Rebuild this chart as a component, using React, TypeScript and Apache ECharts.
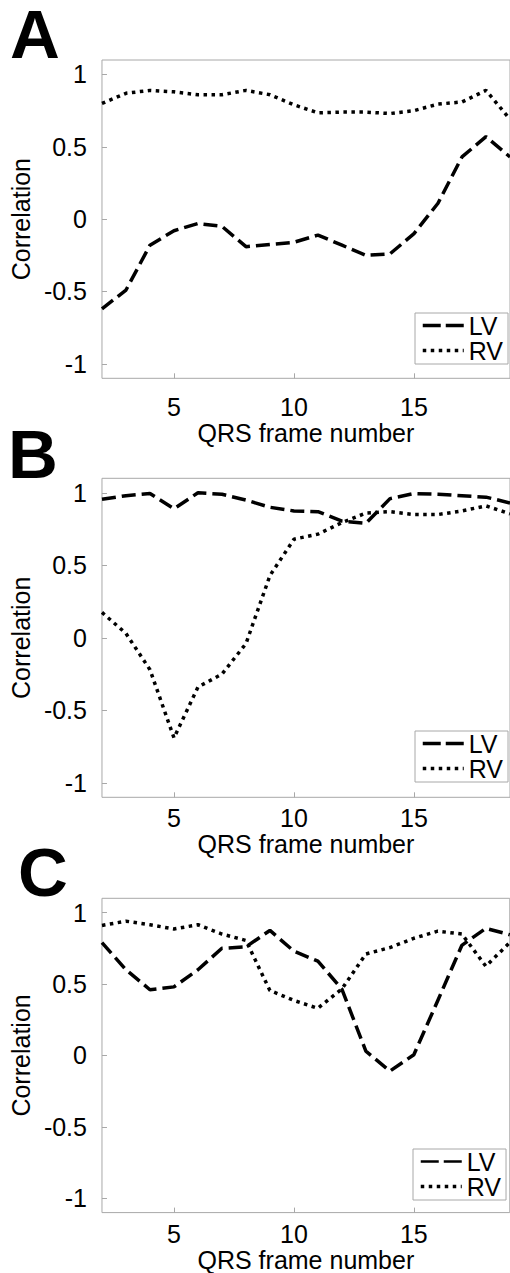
import React, { useEffect, useRef } from "react";
import * as echarts from "echarts";

const frames = [2, 3, 4, 5, 6, 7, 8, 9, 10, 11, 12, 13, 14, 15, 16, 17, 18, 19];

const lvA = [-0.62, -0.49, -0.18, -0.08, -0.03, -0.05, -0.19, -0.175, -0.16, -0.11, -0.18, -0.25, -0.24, -0.1, 0.11, 0.43, 0.57, 0.43];
const rvA = [0.8, 0.87, 0.89, 0.88, 0.86, 0.86, 0.89, 0.86, 0.79, 0.735, 0.74, 0.74, 0.73, 0.75, 0.795, 0.81, 0.89, 0.69];

const lvB = [0.955, 0.98, 0.995, 0.89, 1.0, 0.99, 0.95, 0.9, 0.875, 0.87, 0.805, 0.79, 0.96, 0.995, 0.99, 0.98, 0.97, 0.93];
const rvB = [0.175, 0.03, -0.22, -0.69, -0.34, -0.25, -0.04, 0.43, 0.68, 0.715, 0.795, 0.86, 0.87, 0.85, 0.85, 0.875, 0.91, 0.855];

const lvC = [0.79, 0.6, 0.46, 0.48, 0.6, 0.75, 0.76, 0.875, 0.73, 0.66, 0.465, 0.03, -0.11, 0.005, 0.385, 0.77, 0.89, 0.845];
const rvC = [0.91, 0.94, 0.915, 0.885, 0.915, 0.85, 0.805, 0.455, 0.385, 0.33, 0.465, 0.71, 0.755, 0.82, 0.87, 0.85, 0.625, 0.79];

const yTicks = [-1, -0.5, 0, 0.5, 1];
const xTicks = [5, 10, 15];
const panelLetters = ["A", "B", "C"];
const seriesNames = ["LV", "RV"];
const xName = "QRS frame number";
const yName = "Correlation";

const FONT = "'Liberation Sans', Arial, Helvetica, sans-serif";
const GRAY = "#a8a8a8";
const FS = 25;
const LV_DASH = [14, 6];
const RV_DOT = [3.5, 4.5];

const panels = [
  { lv: lvA, rv: rvA, left: 95.7, top: 60, height: 318.3, unit: 24.5, xLabelMargin: 16, xNameGap: 32, legendLeft: 415, legendTop: 313, legendLine: 3.5, letterX: 10, letterY: 34.5 },
  { lv: lvB, rv: rvB, left: 95.7, top: 478.3, height: 319, unit: 24.5, xLabelMargin: 8, xNameGap: 29, legendLeft: 415, legendTop: 731, legendLine: 3.5, letterX: 8, letterY: 454 },
  { lv: lvC, rv: rvC, left: 94.3, top: 898.3, height: 318.4, unit: 24.44, xLabelMargin: 8.5, xNameGap: 27, legendLeft: 413, legendTop: 1149, legendLine: 2.5, letterX: 18, letterY: 872 },
];

function pairs(vals: number[]) {
  return frames.map((f, i) => [f, vals[i]]);
}

export default function App() {
  const ref = useRef<HTMLDivElement>(null);
  useEffect(() => {
    if (!ref.current) return;
    const chart = echarts.init(ref.current, undefined, { renderer: "svg" });
    const xMin = frames[0];
    const xMax = frames[frames.length - 1];

    const grid = panels.map((p) => ({
      left: p.left,
      top: p.top,
      width: (xMax - xMin) * p.unit,
      height: p.height,
      show: true,
      borderColor: GRAY,
      borderWidth: 1,
      backgroundColor: "transparent",
    }));

    const xAxis = panels.map((p, i) => ({
      type: "value",
      gridIndex: i,
      min: xMin,
      max: xMax,
      name: xName,
      nameLocation: "middle",
      nameGap: p.xNameGap,
      nameTextStyle: { fontFamily: FONT, fontSize: FS, color: "#000" },
      axisLine: { show: false, onZero: false },
      axisTick: { show: true, inside: true, length: 5, customValues: xTicks, lineStyle: { color: GRAY } },
      axisLabel: { show: true, margin: p.xLabelMargin, customValues: xTicks, fontFamily: FONT, fontSize: FS, color: "#000" },
      splitLine: { show: false },
    }));

    const yAxis = panels.map((p, i) => ({
      type: "value",
      gridIndex: i,
      min: -1.1,
      max: 1.1,
      name: yName,
      nameLocation: "middle",
      nameRotate: 90,
      nameGap: 57,
      nameTextStyle: { fontFamily: FONT, fontSize: FS, color: "#000" },
      axisLine: { show: false, onZero: false },
      axisTick: { show: true, inside: true, length: 5, customValues: yTicks, lineStyle: { color: GRAY } },
      axisLabel: { show: true, margin: 15, customValues: yTicks, fontFamily: FONT, fontSize: FS, color: "#000" },
      splitLine: { show: false },
    }));

    const series: any[] = [];
    panels.forEach((p, i) => {
      series.push({
        type: "line",
        name: seriesNames[0],
        xAxisIndex: i,
        yAxisIndex: i,
        data: pairs(p.lv),
        symbol: "none",
        lineStyle: { color: "#000", width: 3.5, type: LV_DASH, cap: "butt" },
        itemStyle: { color: "#000" },
      });
      series.push({
        type: "line",
        name: seriesNames[1],
        xAxisIndex: i,
        yAxisIndex: i,
        data: pairs(p.rv),
        symbol: "none",
        lineStyle: { color: "#000", width: 3.5, type: RV_DOT, cap: "butt" },
        itemStyle: { color: "#000" },
      });
    });

    const legend = panels.map((p) => ({
      data: [
        { name: seriesNames[0], lineStyle: { type: [18, 5], width: p.legendLine, color: "#000" } },
        { name: seriesNames[1], lineStyle: { type: RV_DOT, width: 3.5, color: "#000" } },
      ],
      orient: "vertical",
      left: p.legendLeft,
      top: p.legendTop,
      itemWidth: 41,
      itemHeight: 20,
      itemGap: 0,
      padding: [0, 5, 1, 6],
      borderColor: GRAY,
      borderWidth: 1,
      backgroundColor: "#fff",
      selectedMode: false,
      itemStyle: { opacity: 0 },
      textStyle: { fontFamily: FONT, fontSize: FS, color: "#000", lineHeight: 25 },
    }));

    const graphic = panels.map((p, i) => ({
      type: "text",
      x: p.letterX,
      y: p.letterY,
      style: {
        text: panelLetters[i],
        fontFamily: FONT,
        fontSize: 69,
        fontWeight: "bold",
        lineHeight: 56,
        fill: "#000",
        textVerticalAlign: "middle",
        verticalAlign: "middle",
      },
    }));

    chart.setOption({
      animation: false,
      backgroundColor: "#fff",
      grid,
      xAxis,
      yAxis,
      series,
      legend,
      graphic,
    } as any);
    return () => chart.dispose();
  }, []);
  return (
    <div
      ref={ref}
      style={{ position: "absolute", left: 0, top: 0, width: 510, height: 1273, overflow: "hidden" }}
    />
  );
}
